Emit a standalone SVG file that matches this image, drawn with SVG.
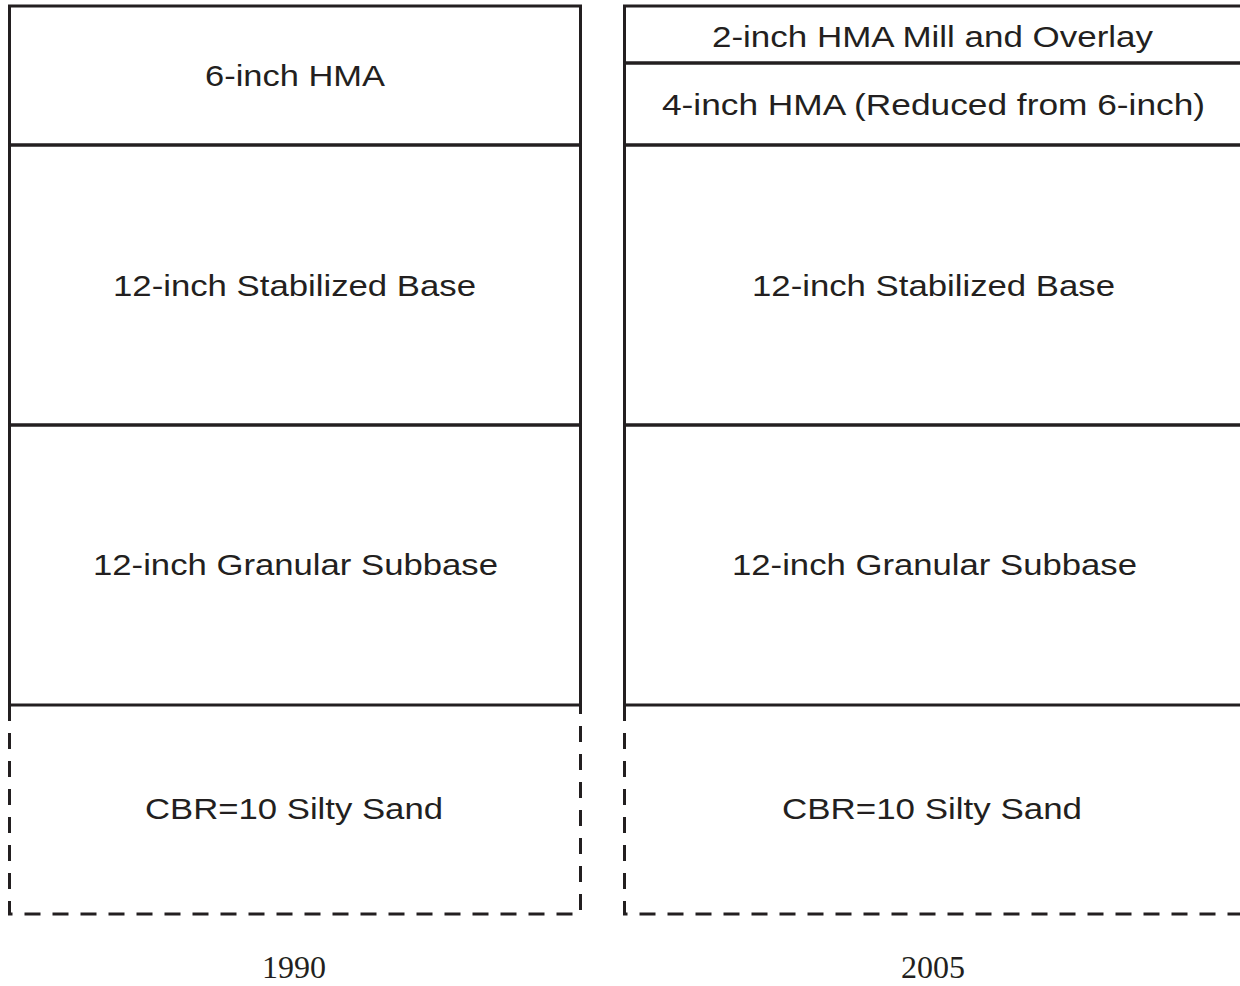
<svg xmlns="http://www.w3.org/2000/svg" width="1240" height="986" viewBox="0 0 1240 986">
<style>
.solid{fill:none;stroke:#231f20;stroke-width:3}
.dash{fill:none;stroke:#231f20;stroke-width:3;stroke-dasharray:16 12}
.lbl{font-family:"Liberation Sans",Arial,sans-serif;font-size:30px;fill:#231f20;text-anchor:middle}
.yr{font-family:"Liberation Serif","Times New Roman",serif;font-size:32px;fill:#231f20;text-anchor:middle}
</style>
<rect width="1240" height="986" fill="#ffffff"/>
<g id="section-1990">
  <g id="l-hma">
    <rect class="solid" x="9.5" y="6" width="571" height="139"/>
    <text class="lbl" x="295" y="86" textLength="180" lengthAdjust="spacingAndGlyphs">6-inch HMA</text>
  </g>
  <g id="l-base">
    <rect class="solid" x="9.5" y="145" width="571" height="280"/>
    <text class="lbl" x="294.5" y="296" textLength="363" lengthAdjust="spacingAndGlyphs">12-inch Stabilized Base</text>
  </g>
  <g id="l-subbase">
    <rect class="solid" x="9.5" y="425" width="571" height="280"/>
    <text class="lbl" x="295.5" y="575" textLength="405" lengthAdjust="spacingAndGlyphs">12-inch Granular Subbase</text>
  </g>
  <g id="l-subgrade">
    <path class="dash" d="M9.5,705 V914 H580.5 V705"/>
    <text class="lbl" x="294" y="819" textLength="298" lengthAdjust="spacingAndGlyphs">CBR=10 Silty Sand</text>
  </g>
  <text id="year-1990" class="yr" x="294" y="978">1990</text>
</g>
<g id="section-2005">
  <g id="r-overlay">
    <rect class="solid" x="624.5" y="6" width="617" height="57"/>
    <text class="lbl" x="932.5" y="47" textLength="441" lengthAdjust="spacingAndGlyphs">2-inch HMA Mill and Overlay</text>
  </g>
  <g id="r-hma">
    <rect class="solid" x="624.5" y="63" width="617" height="82"/>
    <text class="lbl" x="933.5" y="115" textLength="543" lengthAdjust="spacingAndGlyphs">4-inch HMA (Reduced from 6-inch)</text>
  </g>
  <g id="r-base">
    <rect class="solid" x="624.5" y="145" width="617" height="280"/>
    <text class="lbl" x="933.5" y="296" textLength="363" lengthAdjust="spacingAndGlyphs">12-inch Stabilized Base</text>
  </g>
  <g id="r-subbase">
    <rect class="solid" x="624.5" y="425" width="617" height="280"/>
    <text class="lbl" x="934.5" y="575" textLength="405" lengthAdjust="spacingAndGlyphs">12-inch Granular Subbase</text>
  </g>
  <g id="r-subgrade">
    <path class="dash" d="M624.5,705 V914 H1241.5 V705"/>
    <text class="lbl" x="932" y="819" textLength="300" lengthAdjust="spacingAndGlyphs">CBR=10 Silty Sand</text>
  </g>
  <text id="year-2005" class="yr" x="933" y="978">2005</text>
</g>
<g id="connectors"/>
</svg>
